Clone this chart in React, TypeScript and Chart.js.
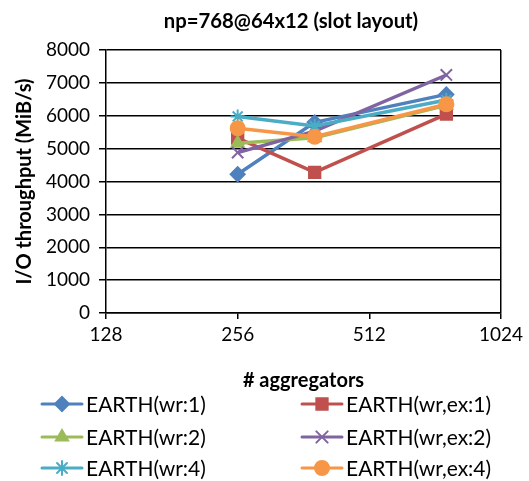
import React, { useEffect, useRef } from "react";
import { Chart, registerables } from "chart.js";
import { drawPoint } from "chart.js/helpers";

Chart.register(...registerables);

const chartTitle = "np=768@64x12 (slot layout)";
const xTitle = "# aggregators";
const yTitle = "I/O throughput (MiB/s)";
const aggregators = [256, 384, 768];
const xTicks = [128, 256, 512, 1024];
const seriesNames = [
  "EARTH(wr:1)",
  "EARTH(wr,ex:1)",
  "EARTH(wr:2)",
  "EARTH(wr,ex:2)",
  "EARTH(wr:4)",
  "EARTH(wr,ex:4)",
];
const wr1 = [4220, 5800, 6650];
const wrEx1 = [5320, 4280, 6050];
const wr2 = [5160, 5330, 6320];
const wrEx2 = [4880, 5530, 7240];
const wr4 = [5980, 5690, 6480];
const wrEx4 = [5620, 5360, 6350];
const seriesValues = [wr1, wrEx1, wr2, wrEx2, wr4, wrEx4];
const colors = ["#4F81BD", "#C0504D", "#9BBB59", "#8064A2", "#4BACC6", "#F79646"];
const markers = ["rectRot", "rect", "triangle", "crossRot", "star", "circle"];
const markerRadius = [7, 8, 7, 8, 7, 7];

const FONT = "Lato, 'Open Sans', sans-serif";

export default function App() {
  const ref = useRef<HTMLCanvasElement>(null);
  useEffect(() => {
    document.body.style.margin = "0";
    const canvas = ref.current!;
    const extras = {
      id: "extras",
      afterDraw(chart: any) {
        const ctx = chart.ctx;
        ctx.save();
        ctx.fillStyle = "#000";
        ctx.font = `bold 20.3px ${FONT}`;
        ctx.textAlign = "center";
        ctx.textBaseline = "middle";
        ctx.fillText(chartTitle, 291, 21);
        // legend
        ctx.font = `21px ${FONT}`;
        ctx.textAlign = "left";
        const rowsY = [404, 437, 468];
        chart.data.datasets.forEach((ds: any, i: number) => {
          const col = i % 2;
          const row = Math.floor(i / 2);
          const x0 = col === 0 ? 42 : 302;
          const y = rowsY[row];
          ctx.strokeStyle = ds.borderColor;
          ctx.lineWidth = 3;
          ctx.lineCap = "round";
          ctx.beginPath();
          ctx.moveTo(x0, y);
          ctx.lineTo(x0 + 40, y);
          ctx.stroke();
          ctx.fillStyle = ds.pointBackgroundColor;
          ctx.strokeStyle = ds.borderColor;
          ctx.lineWidth = 2;
          drawPoint(ctx, { pointStyle: ds.pointStyle, radius: ds.pointRadius, rotation: 0, borderWidth: 2 }, x0 + 20, y);
          ctx.fillStyle = "#000";
          ctx.fillText(ds.label, x0 + 44, y + 1);
        });
        ctx.restore();
      },
    };
    const chart = new Chart(canvas, {
      type: "line",
      data: {
        datasets: seriesNames.map((name, i) => ({
          label: name,
          data: aggregators.map((x, j) => ({ x, y: seriesValues[i][j] })),
          borderColor: colors[i],
          backgroundColor: colors[i],
          pointBackgroundColor: colors[i],
          pointBorderColor: colors[i],
          pointBorderWidth: 2,
          pointStyle: markers[i],
          pointRadius: markerRadius[i],
          borderWidth: 3.5,
          tension: 0,
          order: seriesNames.length - i,
        })),
      },
      plugins: [extras],
      options: {
        responsive: false,
        animation: false,
        layout: { padding: { left: 0, right: 28, top: 50, bottom: 88 } },
        plugins: { legend: { display: false }, title: { display: false }, tooltip: { enabled: false } },
        scales: {
          x: {
            type: "logarithmic",
            min: 128,
            max: 1024,
            afterBuildTicks: (scale: any) => {
              scale.ticks = xTicks.map((v) => ({ value: v }));
            },
            afterFit: (scale: any) => {
              scale.height = 80;
            },
            ticks: {
              autoSkip: false,
              maxRotation: 0,
              color: "#000",
              font: { family: FONT, size: 19 },
              padding: 4,
              callback: (v: any) => String(v),
            },
            grid: {
              drawOnChartArea: true,
              color: (c: any) => (c.tick && c.tick.value === 1024 ? "#000" : "rgba(0,0,0,0)"),
              tickColor: "#000",
              tickLength: 6,
              lineWidth: 1.5,
            },
            border: { display: true, color: "#000", width: 1.5 },
            title: {
              display: true,
              text: xTitle,
              color: "#000",
              font: { family: FONT, size: 20, weight: "bold" },
              padding: { top: 0, bottom: 0 },
            },
          },
          y: {
            min: 0,
            max: 8000,
            afterFit: (scale: any) => {
              scale.width = 106;
            },
            ticks: {
              stepSize: 1000,
              color: "#000",
              font: { family: FONT, size: 19 },
              padding: 9,
              callback: (v: any) => String(v),
            },
            grid: { color: "#000", tickColor: "#000", tickLength: 7, lineWidth: 1.5 },
            border: { display: true, color: "#000", width: 1.5 },
            title: {
              display: true,
              text: yTitle,
              color: "#000",
              font: { family: FONT, size: 20, weight: "bold" },
              padding: { top: 13, bottom: 0 },
            },
          },
        },
      },
    } as any);
    return () => chart.destroy();
  }, []);
  return (
    <div style={{ width: 529, height: 481 }}>
      <canvas ref={ref} width={529} height={481} />
    </div>
  );
}
